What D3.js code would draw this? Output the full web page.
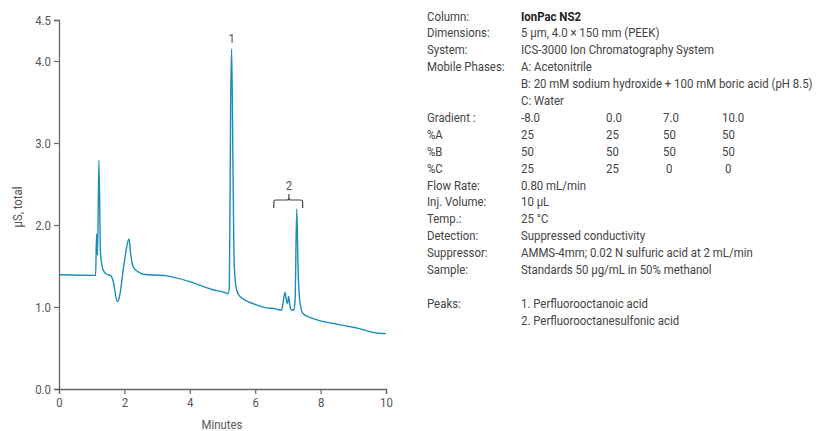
<!DOCTYPE html>
<html><head><meta charset="utf-8">
<script src="https://cdn.jsdelivr.net/npm/d3@7"></script>
<style>
body{margin:0;background:#fff;}
svg text{font-family:"Liberation Sans Narrow","Arial Narrow",Roboto,sans-serif;}
</style></head>
<body><svg id="c" width="820" height="431"></svg>
<script>
// chromatogram trace: [minutes, µS]
const times = [0,1.12,1.15,1.18,1.22,1.27,1.35,1.46,1.59,1.66,1.78,1.84,1.99,2.14,2.19,2.27,2.42,2.58,3.29,4.0,4.71,5.12,5.17,5.21,5.25,5.28,5.32,5.36,5.43,5.53,5.94,6.34,6.61,6.67,6.80,6.85,6.91,6.96,6.99,7.02,7.06,7.11,7.18,7.22,7.27,7.31,7.36,7.46,7.67,7.97,8.38,8.89,9.15,9.30,9.45,9.60,9.80,10.0];
const signal = [1.394,1.386,1.89,1.63,2.79,1.65,1.45,1.40,1.38,1.31,1.065,1.11,1.53,1.83,1.65,1.49,1.43,1.40,1.38,1.31,1.21,1.17,1.16,1.25,3.52,4.15,2.71,1.49,1.21,1.13,1.04,0.99,0.98,0.97,0.963,1.045,1.18,1.065,1.045,1.13,1.02,0.963,0.963,1.085,2.195,1.49,1.085,0.92,0.874,0.833,0.80,0.76,0.74,0.725,0.705,0.69,0.68,0.675];
const yTicks = [0,1,2,3,4,4.5];
const xTicks = [0,2,4,6,8,10];
const peakLabels = [{label:"1", t:5.28, y:4.15},{label:"2", t:7.0, y:2.2}];
const infoRows = [
  ["Column:", ["IonPac NS2"]],
  ["Dimensions:", ["5 µm, 4.0 × 150 mm (PEEK)"]],
  ["System:", ["ICS-3000 Ion Chromatography System"]],
  ["Mobile Phases:", ["A: Acetonitrile"]],
  ["", ["B: 20 mM sodium hydroxide + 100 mM boric acid (pH 8.5)"]],
  ["", ["C: Water"]],
  ["Gradient :", ["-8.0","0.0","7.0","10.0"]],
  ["%A", ["25","25","50","50"]],
  ["%B", ["50","50","50","50"]],
  ["%C", ["25","25","0","0"]],
  ["Flow Rate:", ["0.80 mL/min"]],
  ["Inj. Volume:", ["10 µL"]],
  ["Temp.:", ["25 °C"]],
  ["Detection:", ["Suppressed conductivity"]],
  ["Suppressor:", ["AMMS-4mm; 0.02 N sulfuric acid at 2 mL/min"]],
  ["Sample:", ["Standards 50 µg/mL in 50% methanol"]],
  ["", [""]],
  ["Peaks:", ["1. Perfluorooctanoic acid"]],
  ["", ["2. Perfluorooctanesulfonic acid"]]
];

const svg = d3.select("#c");
const x = d3.scaleLinear().domain([0,10]).range([59,386]);
const y = d3.scaleLinear().domain([0,4.5]).range([389,20]);
const axisColor = "#666", textColor = "#555";

// measure condensing factor so the long mobile-phase line spans ~292px
const probe = svg.append("text").style("font-size","13px").text(infoRows[4][1][0]);
const sx = Math.min(1, 292 / probe.node().getComputedTextLength());
probe.remove();

function condense(sel){
  sel.each(function(){
    const t = d3.select(this);
    const xv = +t.attr("x") || 0, yv = +t.attr("y") || 0;
    t.attr("x",0).attr("y",0).attr("transform",`translate(${xv},${yv}) scale(${sx},1)`);
  });
}

const gx = svg.append("g").attr("transform","translate(0,389)")
  .call(d3.axisBottom(x).tickValues(xTicks).tickSize(5).tickPadding(4).tickFormat(d3.format("d")));
const gy = svg.append("g").attr("transform","translate(59,0)")
  .call(d3.axisLeft(y).tickValues(yTicks).tickSize(5).tickPadding(3).tickFormat(d3.format(".1f")));
[gx,gy].forEach(g=>{
  g.select(".domain").attr("stroke",axisColor).attr("stroke-width",1.3);
  g.selectAll(".tick line").attr("stroke",axisColor).attr("stroke-width",1.2);
  g.selectAll(".tick text").attr("fill",textColor).style("font-size","13px");
});
condense(gx.selectAll(".tick text"));
condense(gy.selectAll(".tick text"));

condense(svg.append("text").attr("x",222).attr("y",429).attr("text-anchor","middle")
  .attr("fill",textColor).style("font-size","13px").text("Minutes"));
svg.append("text").attr("transform",`translate(22,207) rotate(-90) scale(${sx},1)`).attr("text-anchor","middle")
  .attr("fill",textColor).style("font-size","13px").text("µS, total");

const line = d3.line().x((d,i)=>x(times[i])).y(d=>y(d)).curve(d3.curveMonotoneX);
svg.append("path").datum(signal).attr("d",line).attr("fill","none")
  .attr("stroke","#1a8cbb").attr("stroke-width",1.4).attr("stroke-linejoin","round");

// peak labels
condense(svg.append("text").attr("x",x(peakLabels[0].t)).attr("y",y(peakLabels[0].y)-6).attr("text-anchor","middle")
  .attr("fill",textColor).style("font-size","13px").text(peakLabels[0].label));
condense(svg.append("text").attr("x",x(peakLabels[1].t)+1).attr("y",190).attr("text-anchor","middle")
  .attr("fill",textColor).style("font-size","13px").text(peakLabels[1].label));
// bracket for peak 2
const bx0 = x(6.57), bx1 = x(7.45), bc = x(7.0)+1, by = 200;
svg.append("path").attr("fill","none").attr("stroke","#444").attr("stroke-width",1.2)
  .attr("d",`M${bx0},${by+8} L${bx0},${by+2} Q${bx0},${by} ${bx0+2},${by} L${bc-2},${by} Q${bc},${by} ${bc},${by-2} L${bc},${by-6} M${bc},${by-2} Q${bc},${by} ${bc+2},${by} L${bx1-2},${by} Q${bx1},${by} ${bx1},${by+2} L${bx1},${by+8}`);

// info block
const rowY0 = 20.5, rowH = 16.9;
const colX = [521,606,663,722];
const colXC = [521,606,666,725];
const info = svg.append("g").attr("fill","#444").style("font-size","13px");
infoRows.forEach((r,i)=>{
  const yy = rowY0 + i*rowH;
  condense(info.append("text").attr("x",427).attr("y",yy).text(r[0]));
  r[1].forEach((v,j)=>{
    const cx = (i===9 ? colXC : colX)[j];
    condense(info.append("text").attr("x",cx).attr("y",yy)
      .style("font-weight", i===0 ? "bold" : null)
      .attr("fill", i===0 ? "#222" : null)
      .text(v));
  });
});
</script></body></html>
